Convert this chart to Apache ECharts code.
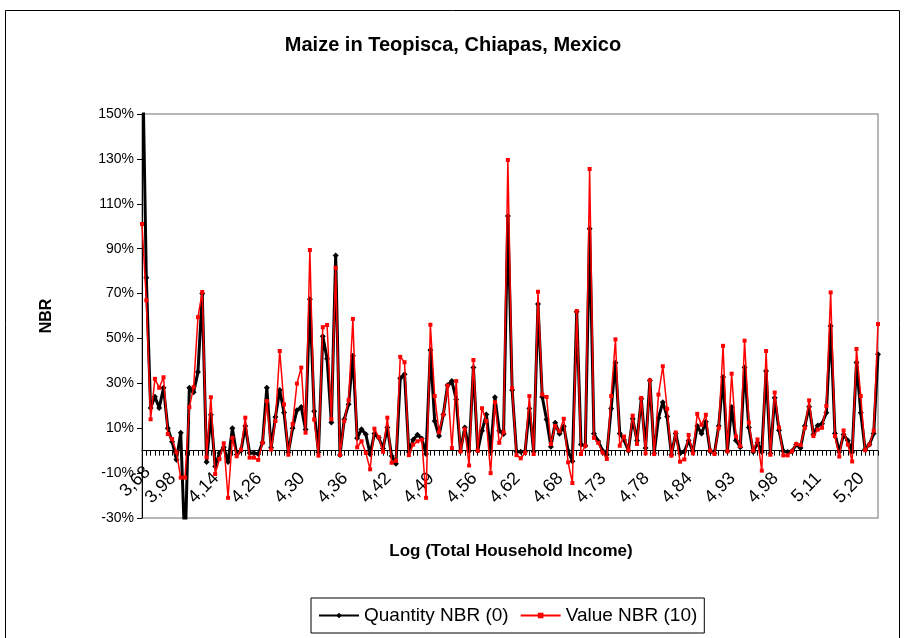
<!DOCTYPE html>
<html><head><meta charset="utf-8">
<script src="https://cdn.jsdelivr.net/npm/echarts@6/dist/echarts.min.js"></script>
<style>html,body{margin:0;padding:0;background:#fff}#c{width:905px;height:638px}</style>
</head><body><div id="c"></div>
<script>
const tickLabels = ['3,68','3,98','4,14','4,26','4,30','4,36','4,42','4,49','4,56','4,62','4,68','4,73','4,78','4,84','4,93','4,98','5,11','5,20'];
const quantityNBR = [
190,77,19,24,19,28,10,4,-4,8,
-45,28,26,35,70,-5,16,-7,-1,1.5,
-5,10,-1.7,0,11,-1,-1,-1.5,3.5,28,
1.3,15,27,17,-0.7,10,18,19.4,9.4,67.5,
17.6,-0.7,51,41,12.5,87,-1.9,14,20.7,42.3,
5.5,9.5,7.3,-1.6,7.6,5.8,1,10.3,-2.4,-5.8,
32.3,34.1,-0.6,4.9,7.1,5.4,-1.5,44.8,13.2,6.5,
16.1,29.2,31,22.8,-0.1,10.3,-0.1,37.1,0,8.9,
16.1,-0.4,23.8,8.9,7.4,104.5,27,-0.4,-0.5,-0.5,
18.8,-0.5,65.3,23.9,13.9,1.8,12.4,7.5,10.9,0,
-4.7,61.9,2.7,2.2,98.9,7.5,4.2,0,-1.8,18.8,
39.2,7.7,4.8,0,14.2,4.5,23.1,1.2,31.3,-1.2,
14.6,21.6,15.2,-1.8,7.7,-1.2,-0.5,4.5,-0.5,11,
7.6,12.9,-0.3,-1.1,11,32.8,-0.3,19.4,4.5,1.5,
37.1,10.3,-0.6,3.5,-0.6,35.5,-1.1,23.6,9.1,-0.3,
-0.6,-0.3,2.7,1.2,11,19.6,7.2,11.2,12,16.9,
55.6,7.6,-0.6,7.2,4.5,-0.6,39.3,16.9,0.6,2.7,
7.6,43
];
const valueNBR = [
101,67,14,32,28,32.7,7.4,5.2,-0.7,-12,
-12,19.4,28.3,59.5,70.7,-3,23.8,-10.4,-3.7,3.3,
-21,5.7,-2.5,0.5,14.7,-3.1,-3.1,-4.1,3.5,22.1,
0.5,13.2,44.4,20.6,-1.8,11.9,29.9,37,8,89.4,
13.9,-2.2,55,56,14,81.5,-1.9,13.3,22.5,58.7,
1.5,4.2,-1,-8.3,9.8,6,-0.5,14.7,-5.4,-4.5,
41.8,39.4,-2,2.7,4.2,4.9,-21,56.1,24.3,8.2,
16.1,29,1.2,31,-0.4,9.6,-6.6,40.4,0,18.9,
13.2,-10,21.6,3.5,8.2,129.5,27.8,-2,-3.4,-1,
24.3,-1.5,70.8,25,23.9,2.9,11,8.7,14.2,-5.2,
-14.4,62.2,-1.5,2.2,125.5,5.7,3.5,-0.8,-3.7,24.3,
49.6,2.2,6.3,0.2,15.6,3,23.5,-1.2,31.3,-1.5,
25,37.6,18.6,-2.2,8.1,-4.9,-3.9,7,-1.2,16.4,
11.5,16,0,-1.5,10.2,46.7,-0.3,34.3,6.4,2,
49,12.5,0,5,-8.9,44.4,-1.8,25.9,10.3,-2.1,
-2.1,-0.3,3,2.5,10.2,22.4,6.5,9.4,10.2,19.9,
70.5,6.5,-2.6,9,2.7,-4.8,45.3,24.3,0.2,2.7,
8.9,56.4
];
const yMin = -30, yMax = 150, yStep = 20;
const categories = quantityNBR.map((_, i) => (i % 10 === 0 ? tickLabels[i / 10] : 'x' + i));

const FONT = 'Liberation Sans, Arial, sans-serif';
const GRID = {left: 142, right: 27, top: 114, bottom: 120};
const gridH = 638 - GRID.top - GRID.bottom;
// category axis sits on the zero line (as in the original), labels move with it
const zeroOffset = -gridH * (0 - yMin) / (yMax - yMin);
const lblStyle = {fontSize: 18, color: '#000', fontFamily: FONT};

const chart = echarts.init(document.getElementById('c'), null, {renderer: 'canvas'});
chart.setOption({
  animation: false,
  backgroundColor: '#fff',
  grid: Object.assign({show: true, borderColor: '#a0a0a0', borderWidth: 1.5, containLabel: false, outerBoundsMode: 'none'}, GRID),
  xAxis: {
    type: 'category', data: categories, boundaryGap: false, position: 'bottom', offset: zeroOffset,
    axisLine: {onZero: false, lineStyle: {color: '#000', width: 1}},
    axisTick: {show: true, interval: 0, length: 5, lineStyle: {color: '#000'}},
    axisLabel: {interval: 9, rotate: 45, fontSize: 18, color: '#000', fontFamily: FONT, margin: 13,
      formatter: (v, i) => (i % 10 === 0 ? (i === 0 ? '{f|' : '{n|') + tickLabels[i / 10] + '}' : ''),
      rich: {
        n: Object.assign({padding: [0, 17, 0, 0]}, lblStyle),
        f: Object.assign({padding: [16, 0, 0, 0]}, lblStyle)
      }},
    splitLine: {show: false}
  },
  yAxis: {
    type: 'value', min: yMin, max: yMax, interval: yStep,
    axisLine: {show: true, lineStyle: {color: '#000', width: 1}},
    axisTick: {show: true, length: 5, lineStyle: {color: '#000'}},
    axisLabel: {formatter: v => v + '%', fontSize: 14, color: '#000', fontFamily: FONT, margin: 8},
    splitLine: {show: false}
  },
  legend: {
    left: 311, top: 598, itemWidth: 40, itemHeight: 7, itemGap: 11, padding: [8, 7, 8, 7],
    borderColor: '#000', borderWidth: 1,
    textStyle: {fontSize: 19, color: '#000', fontFamily: FONT},
    data: ['Quantity NBR (0)', 'Value NBR (10)']
  },
  graphic: [
    {type: 'rect', silent: true, shape: {x: 5.5, y: 10.5, width: 894, height: 640}, style: {fill: 'none', stroke: '#000', lineWidth: 1}},
    {type: 'text', x: 453, y: 45, style: {text: 'Maize in Teopisca, Chiapas, Mexico', font: 'bold 20px ' + FONT, fill: '#000', textAlign: 'center', textVerticalAlign: 'middle'}},
    {type: 'text', x: 511, y: 551, style: {text: 'Log (Total Household Income)', font: 'bold 17px ' + FONT, fill: '#000', textAlign: 'center', textVerticalAlign: 'middle'}},
    {type: 'text', x: 47, y: 316, rotation: Math.PI / 2, style: {text: 'NBR', font: 'bold 16px ' + FONT, fill: '#000', textAlign: 'center', textVerticalAlign: 'middle'}}
  ],
  series: [
    {name: 'Quantity NBR (0)', type: 'line', data: quantityNBR, symbol: 'diamond', symbolSize: 6, showAllSymbol: true, clip: true,
      lineStyle: {color: '#000', width: 3}, itemStyle: {color: '#000'}, z: 2},
    {name: 'Value NBR (10)', type: 'line', data: valueNBR, symbol: 'rect', symbolSize: 4, showAllSymbol: true, clip: true,
      lineStyle: {color: '#ff0000', width: 1.5}, itemStyle: {color: '#ff0000'}, z: 3}
  ]
});
</script></body></html>
